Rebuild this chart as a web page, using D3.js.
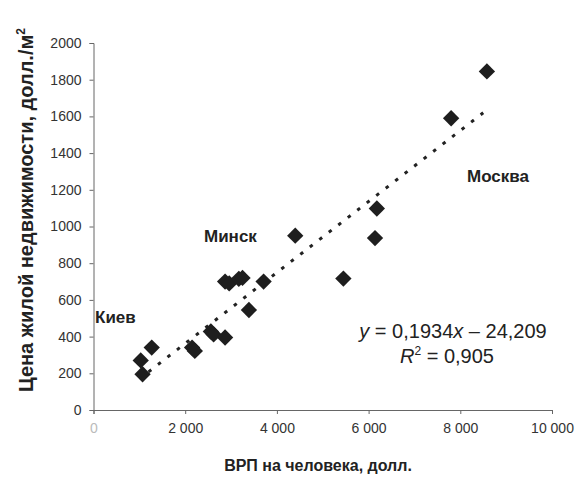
<!DOCTYPE html>
<html><head><meta charset="utf-8">
<script src="https://cdn.jsdelivr.net/npm/d3@7"></script>
<style>body{margin:0;background:#fff}svg{display:block}</style>
</head><body><svg id="c" width="576" height="479"></svg>
<script>
const gdp   = [1030, 1070, 1270, 2150, 2210, 2560, 2620, 2870, 2870, 2960, 3170, 3250, 3390, 3710, 4400, 5450, 6140, 6180, 7800, 8580];
const price = [270, 195, 340, 340, 322, 428, 412, 395, 700, 690, 715, 720, 545, 700, 950, 716, 937, 1098, 1590, 1845];
const xTicks = [0, 2000, 4000, 6000, 8000, 10000];
const yTicks = [0, 200, 400, 600, 800, 1000, 1200, 1400, 1600, 1800, 2000];
const trend = {slope: 0.1934, intercept: -24.209, from: 1200, to: 8500};
const cities = [{name: "Киев", x: 95, y: 317}, {name: "Минск", x: 204, y: 236}, {name: "Москва", x: 467, y: 176}];

const FONT = "Liberation Sans, Arial, sans-serif";
const svg = d3.select("#c");
const x = d3.scaleLinear().domain([0, 10000]).range([93.5, 552]);
const y = d3.scaleLinear().domain([0, 2000]).range([410, 43]);
const fmt = d => d === 0 ? "0" : d3.format(",")(d).replace(/,/g, " ");

const gx = svg.append("g").attr("transform", "translate(0,410)")
  .call(d3.axisBottom(x).tickValues(xTicks).tickSize(4).tickFormat(fmt));
gx.selectAll("text").attr("dy", "1.15em").style("font-family", FONT).style("font-size", "14px")
  .attr("fill", d => d === 0 ? "#bbb" : "#333");
const gy = svg.append("g").attr("transform", "translate(93.5,0)")
  .call(d3.axisLeft(y).tickValues(yTicks).tickSize(4).tickPadding(8).tickFormat(d3.format("d")));
gy.selectAll("text").style("font-family", FONT).style("font-size", "14px").attr("fill", "#333");
svg.selectAll(".domain, .tick line").attr("stroke", "#666");

svg.append("line")
  .attr("x1", x(trend.from)).attr("y1", y(trend.slope * trend.from + trend.intercept))
  .attr("x2", x(trend.to)).attr("y2", y(trend.slope * trend.to + trend.intercept))
  .attr("stroke", "#222").attr("stroke-width", 3).attr("stroke-dasharray", "3.5 8.5");

svg.selectAll("path.pt").data(gdp).join("path").attr("class", "pt")
  .attr("d", d3.symbol(d3.symbolDiamond2, 170))
  .attr("transform", (d, i) => `translate(${x(d)},${y(price[i])})`)
  .attr("fill", "#1e1e1e");

svg.selectAll("text.city").data(cities).join("text").attr("class", "city")
  .attr("x", d => d.x).attr("y", d => d.y).attr("dy", "0.35em")
  .style("font-family", FONT).style("font-weight", "bold").style("font-size", "17px")
  .attr("fill", "#222").text(d => d.name);

const eq = svg.append("text").attr("x", 453).attr("y", 338).attr("text-anchor", "middle")
  .style("font-family", FONT).style("font-size", "20px").attr("fill", "#222");
eq.append("tspan").style("font-style", "italic").text("y");
eq.append("tspan").text(" = 0,1934");
eq.append("tspan").style("font-style", "italic").text("x");
eq.append("tspan").text(" \u2013 24,209");
const r2 = svg.append("text").attr("x", 447).attr("y", 363).attr("text-anchor", "middle")
  .style("font-family", FONT).style("font-size", "20px").attr("fill", "#222");
r2.append("tspan").style("font-style", "italic").text("R");
r2.append("tspan").attr("dy", -8).style("font-size", "12px").text("2");
r2.append("tspan").attr("dy", 8).text(" = 0,905");

svg.append("text").attr("x", 318).attr("y", 471).attr("text-anchor", "middle")
  .style("font-family", FONT).style("font-weight", "bold").style("font-size", "16px")
  .attr("fill", "#222").text("ВРП на человека, долл.");

const yl = svg.append("text").attr("transform", "translate(33,210) rotate(-90)").attr("text-anchor", "middle")
  .style("font-family", FONT).style("font-weight", "bold").style("font-size", "20px")
  .attr("fill", "#222");
yl.append("tspan").text("Цена жилой недвижимости, долл./м");
yl.append("tspan").attr("dy", -8).style("font-size", "12px").text("2");
</script></body></html>
